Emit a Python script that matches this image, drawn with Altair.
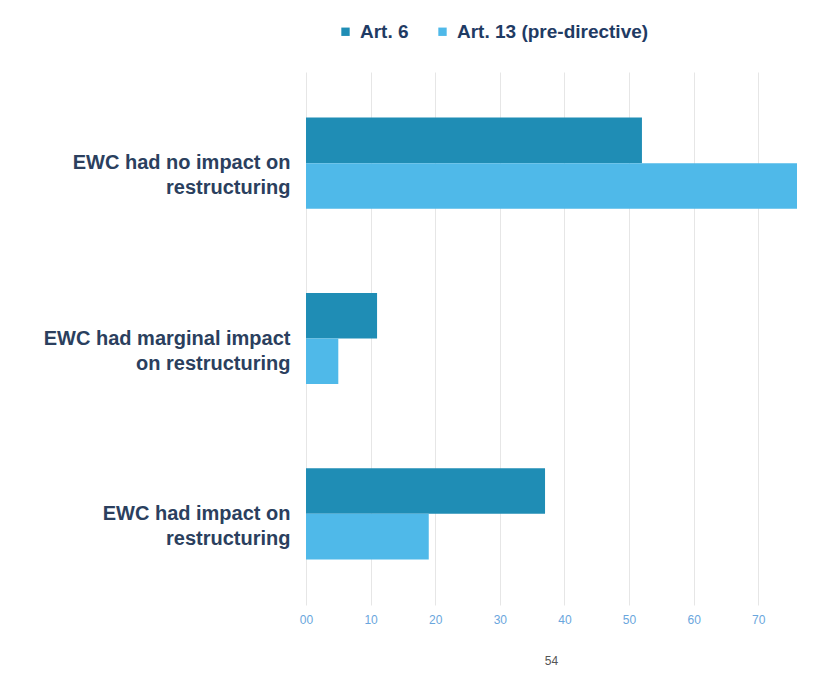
import altair as alt
import pandas as pd

categories = ["EWC had no impact on\nrestructuring",
              "EWC had marginal impact\non restructuring",
              "EWC had impact on\nrestructuring"]
series = ["Art. 6", "Art. 13 (pre-directive)"]
art6 = [52, 11, 37]
art13 = [76, 5, 19]
x_ticks = [0, 10, 20, 30, 40, 50, 60, 70]

rows = []
for c, a, b in zip(categories, art6, art13):
    rows.append({"cat": c, "series": series[0], "value": a})
    rows.append({"cat": c, "series": series[1], "value": b})
df = pd.DataFrame(rows)

bars = alt.Chart(df).mark_bar().encode(
    y=alt.Y("cat:N", sort=categories, title=None,
            scale=alt.Scale(paddingInner=0.48, paddingOuter=0.26),
            axis=alt.Axis(labelExpr="split(datum.label, '\\n')", labelFont="Liberation Sans",
                          labelFontWeight="bold", labelFontSize=20, labelColor="#2b3f5e",
                          labelPadding=16, ticks=False, domain=False, labelLimit=300,
                          labelLineHeight=25)),
    yOffset=alt.YOffset("series:N", sort=series),
    x=alt.X("value:Q", title=None,
            scale=alt.Scale(domain=[0, 76], nice=False),
            axis=alt.Axis(values=x_ticks, labelExpr="datum.value == 0 ? '00' : datum.label",
                          labelFont="Liberation Sans", labelFontSize=12, labelColor="#6aa6dd",
                          labelFlush=False, ticks=False, domain=False, gridColor="#e6e6e6",
                          labelPadding=9)),
    color=alt.Color("series:N", sort=series,
                    scale=alt.Scale(domain=series, range=["#1f8db5", "#4fb9e9"]),
                    legend=alt.Legend(title=None, orient="none", direction="horizontal",
                                      legendX=30, legendY=-50, symbolType="square",
                                      symbolSize=70, labelFont="Liberation Sans",
                                      labelFontWeight="bold", labelFontSize=19,
                                      labelColor="#1f3b64", columnPadding=24,
                                      labelOffset=5, labelLimit=400)),
)

chart = bars.properties(
    width=491, height=533,
    background="white",
    title=alt.TitleParams("54", orient="bottom", fontSize=12, color="#555555",
                          font="Liberation Sans", fontWeight="normal", offset=31),
    autosize=alt.AutoSizeParams(type="none"),
    padding={"left": 306, "top": 72, "right": 16, "bottom": 72},
).configure_view(strokeWidth=0)

chart.save("out.html", embed_options={"renderer": "svg", "actions": False})
